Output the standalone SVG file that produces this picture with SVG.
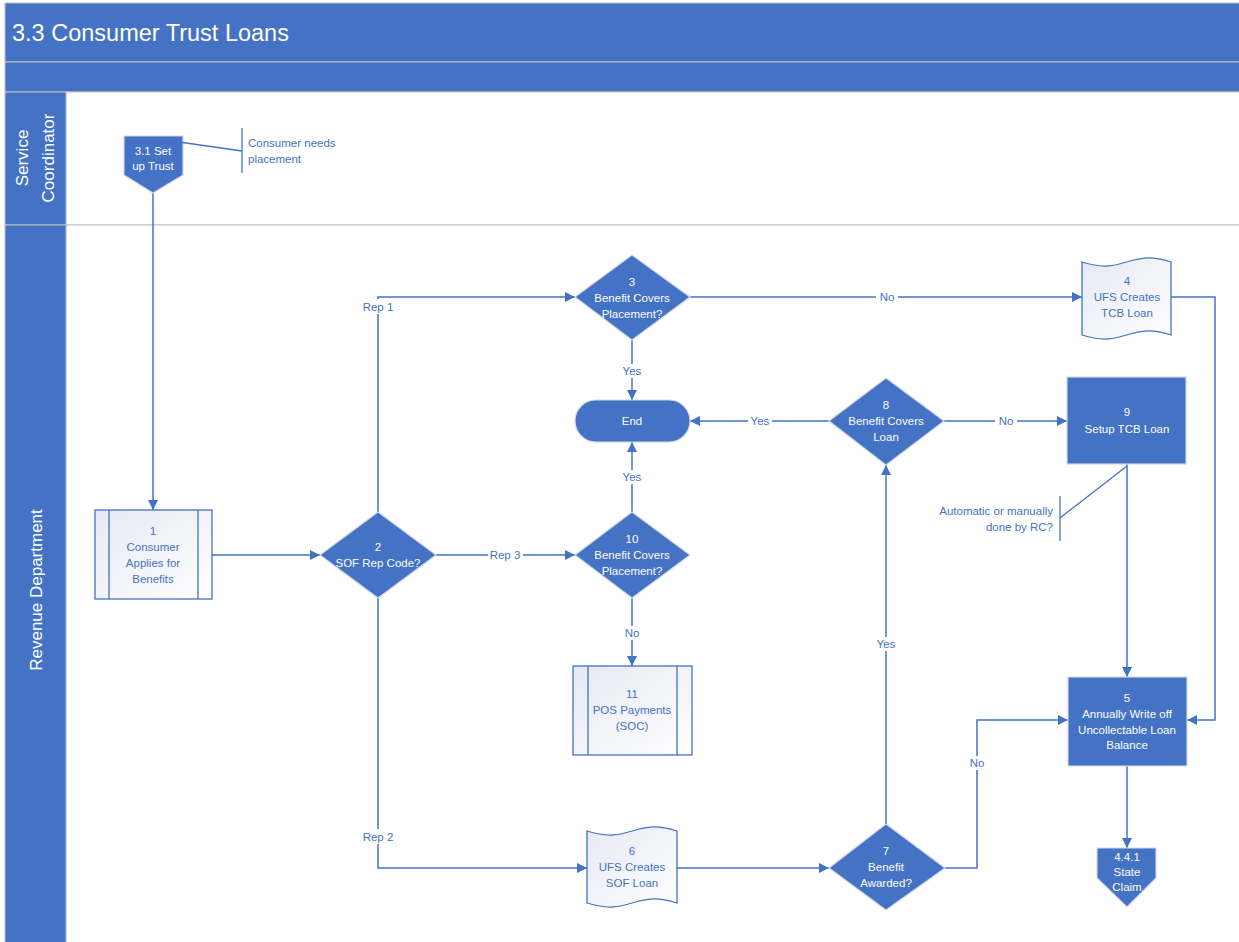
<svg xmlns="http://www.w3.org/2000/svg" width="1239" height="942" viewBox="0 0 1239 942">
  <defs>
    <style>
      .band { fill: #4472C4; stroke: #BFBFBF; stroke-width: 1; }
      .lane { fill: #FFFFFF; stroke: #BFBFBF; stroke-width: 1; }
      .dark { fill: #4472C4; stroke: #D0D7E8; stroke-width: 1.2; }
      .light { fill: url(#lightFill); stroke: #4472C4; stroke-width: 1.3; }
      .inner { fill: none; stroke: #4472C4; stroke-width: 1.3; }
      .arrow { fill: none; stroke: #4472C4; stroke-width: 1.5; marker-end: url(#head); }
      .note { fill: none; stroke: #4472C4; stroke-width: 1.3; }
      .t { font-family: "Liberation Sans", Arial, sans-serif; font-size: 11.5px; text-anchor: middle; }
      .w { fill: #FFFFFF; }
      .b { fill: #4472C4; }
      .lbl { font-family: "Liberation Sans", Arial, sans-serif; font-size: 11.5px; fill: #4472C4; text-anchor: middle; }
      .start { text-anchor: start; }
      .end { text-anchor: end; }
      .lblbg { fill: #FFFFFF; }
      .hdr { font-family: "Liberation Sans", Arial, sans-serif; font-size: 17px; fill: #FFFFFF; text-anchor: middle; }
    </style>
    <linearGradient id="lightFill" x1="0" y1="0" x2="1" y2="1">
      <stop offset="0" stop-color="#E6E9F4"/>
      <stop offset="1" stop-color="#FFFFFF"/>
    </linearGradient>
    <marker id="head" viewBox="0 0 10 10" refX="10" refY="5" markerWidth="10" markerHeight="10" markerUnits="userSpaceOnUse" orient="auto">
      <path d="M0,0 L10,5 L0,10 Z" fill="#4472C4"/>
    </marker>
  </defs>

  <rect width="1239" height="942" fill="#FFFFFF"/>

  <!-- pool title and header bands -->
  <g id="pool">
    <rect class="band" x="5" y="3" width="1240" height="59"/>
    <text x="12" y="41" font-family="'Liberation Sans', Arial, sans-serif" font-size="23.5" fill="#FFFFFF">3.3 Consumer Trust Loans</text>
    <rect class="band" x="5" y="62" width="1240" height="30"/>
  </g>

  <!-- swimlanes -->
  <g id="lane-service-coordinator">
    <rect class="lane" x="66" y="92" width="1180" height="133"/>
    <rect class="band" x="5" y="92" width="61" height="133"/>
    <text class="hdr" transform="translate(28,158) rotate(-90)">Service</text>
    <text class="hdr" transform="translate(54,158) rotate(-90)">Coordinator</text>
  </g>
  <g id="lane-revenue-department">
    <rect class="lane" x="66" y="225" width="1180" height="720"/>
    <rect class="band" x="5" y="225" width="61" height="720"/>
    <text class="hdr" transform="translate(42,590) rotate(-90)">Revenue Department</text>
  </g>

  <!-- connectors -->
  <g id="connectors">
    <path class="arrow" d="M153,193 V510"/>
    <path class="arrow" d="M212,555 H320"/>
    <path class="arrow" d="M378,512 V297 H575"/>
    <path class="arrow" d="M436,555 H575"/>
    <path class="arrow" d="M378,598 V868 H587"/>
    <path class="arrow" d="M690,297 H1082"/>
    <path class="arrow" d="M632,340 V400"/>
    <path class="arrow" d="M632,512 V442"/>
    <path class="arrow" d="M632,598 V666"/>
    <path class="arrow" d="M1171,297 H1215 V720 H1187"/>
    <path class="arrow" d="M829,421 H690"/>
    <path class="arrow" d="M944,421 H1067"/>
    <path class="arrow" d="M1127,464 V677"/>
    <path class="arrow" d="M1127,766 V848"/>
    <path class="arrow" d="M677,868 H829"/>
    <path class="arrow" d="M886,824 V465"/>
    <path class="arrow" d="M945,868 H977 V720 H1068"/>

    <!-- connector labels -->
    <rect class="lblbg" x="361" y="299" width="34" height="15"/>
    <text class="lbl" x="378" y="311">Rep 1</text>
    <rect class="lblbg" x="361" y="829" width="34" height="15"/>
    <text class="lbl" x="378" y="841">Rep 2</text>
    <rect class="lblbg" x="488" y="548" width="35" height="14"/>
    <text class="lbl" x="505" y="559">Rep 3</text>
    <rect class="lblbg" x="876" y="290" width="22" height="14"/>
    <text class="lbl" x="887" y="301">No</text>
    <rect class="lblbg" x="621" y="364" width="22" height="14"/>
    <text class="lbl" x="632" y="375">Yes</text>
    <rect class="lblbg" x="748" y="414" width="24" height="14"/>
    <text class="lbl" x="760" y="425">Yes</text>
    <rect class="lblbg" x="995" y="414" width="22" height="14"/>
    <text class="lbl" x="1006" y="425">No</text>
    <rect class="lblbg" x="621" y="470" width="22" height="14"/>
    <text class="lbl" x="632" y="481">Yes</text>
    <rect class="lblbg" x="621" y="626" width="22" height="14"/>
    <text class="lbl" x="632" y="637">No</text>
    <rect class="lblbg" x="874" y="637" width="24" height="14"/>
    <text class="lbl" x="886" y="648">Yes</text>
    <rect class="lblbg" x="966" y="756" width="22" height="14"/>
    <text class="lbl" x="977" y="767">No</text>
  </g>

  <!-- 3.1 off-page reference -->
  <g id="node-3-1">
    <path class="dark" d="M124,136 H183 V175 L153,193 L124,175 Z"/>
    <text class="t w" x="153" y="155">3.1 Set</text>
    <text class="t w" x="153" y="170">up Trust</text>
  </g>
  <g id="note-3-1">
    <path class="note" d="M172,141 L242,151 M242,128 V173"/>
    <text class="lbl start" x="248" y="147">Consumer needs</text>
    <text class="lbl start" x="248" y="163">placement</text>
  </g>

  <!-- 1 Consumer Applies for Benefits -->
  <g id="node-1">
    <rect class="light" x="95" y="510" width="117" height="89"/>
    <path class="inner" d="M109,510 V599 M198,510 V599"/>
    <text class="t b" x="153" y="535">1</text>
    <text class="t b" x="153" y="551">Consumer</text>
    <text class="t b" x="153" y="567">Applies for</text>
    <text class="t b" x="153" y="583">Benefits</text>
  </g>

  <!-- 2 SOF Rep Code? -->
  <g id="node-2">
    <path class="dark" d="M378,512 L436,555 L378,598 L320,555 Z"/>
    <text class="t w" x="378" y="551">2</text>
    <text class="t w" x="378" y="567">SOF Rep Code?</text>
  </g>

  <!-- 3 Benefit Covers Placement? -->
  <g id="node-3">
    <path class="dark" d="M632,255 L690,297 L632,340 L575,297 Z"/>
    <text class="t w" x="632" y="286">3</text>
    <text class="t w" x="632" y="302">Benefit Covers</text>
    <text class="t w" x="632" y="318">Placement?</text>
  </g>

  <!-- 4 UFS Creates TCB Loan -->
  <g id="node-4">
    <path class="light" d="M1082,262 C1126,276 1127,248 1171,262 V335 C1127,321 1126,349 1082,335 Z"/>
    <text class="t b" x="1127" y="285">4</text>
    <text class="t b" x="1127" y="301">UFS Creates</text>
    <text class="t b" x="1127" y="317">TCB Loan</text>
  </g>

  <!-- End -->
  <g id="node-end">
    <rect class="dark" x="575" y="400" width="115" height="42" rx="21" ry="21"/>
    <text class="t w" x="632" y="425">End</text>
  </g>

  <!-- 8 Benefit Covers Loan -->
  <g id="node-8">
    <path class="dark" d="M886,378 L944,421 L886,465 L829,421 Z"/>
    <text class="t w" x="886" y="409">8</text>
    <text class="t w" x="886" y="425">Benefit Covers</text>
    <text class="t w" x="886" y="441">Loan</text>
  </g>

  <!-- 9 Setup TCB Loan -->
  <g id="node-9">
    <rect class="dark" x="1067" y="377" width="119" height="87"/>
    <text class="t w" x="1127" y="416">9</text>
    <text class="t w" x="1127" y="433">Setup TCB Loan</text>
  </g>
  <g id="note-9">
    <path class="note" d="M1127,466 L1060,518 M1060,496 V541"/>
    <text class="lbl end" x="1053" y="515">Automatic or manually</text>
    <text class="lbl end" x="1053" y="531">done by RC?</text>
  </g>

  <!-- 10 Benefit Covers Placement? -->
  <g id="node-10">
    <path class="dark" d="M632,512 L690,555 L632,598 L575,555 Z"/>
    <text class="t w" x="632" y="543">10</text>
    <text class="t w" x="632" y="559">Benefit Covers</text>
    <text class="t w" x="632" y="575">Placement?</text>
  </g>

  <!-- 11 POS Payments (SOC) -->
  <g id="node-11">
    <rect class="light" x="573" y="666" width="119" height="89"/>
    <path class="inner" d="M588,666 V755 M677,666 V755"/>
    <text class="t b" x="632" y="698">11</text>
    <text class="t b" x="632" y="714">POS Payments</text>
    <text class="t b" x="632" y="730">(SOC)</text>
  </g>

  <!-- 5 Annually Write off Uncollectable Loan Balance -->
  <g id="node-5">
    <rect class="dark" x="1068" y="677" width="119" height="89"/>
    <text class="t w" x="1127" y="702">5</text>
    <text class="t w" x="1127" y="718">Annually Write off</text>
    <text class="t w" x="1127" y="734">Uncollectable Loan</text>
    <text class="t w" x="1127" y="749">Balance</text>
  </g>

  <!-- 4.4.1 off-page reference -->
  <g id="node-4-4-1">
    <path class="dark" d="M1097,848 H1156 V878 L1127,907 L1097,878 Z"/>
    <text class="t w" x="1127" y="861">4.4.1</text>
    <text class="t w" x="1127" y="876">State</text>
    <text class="t w" x="1127" y="891">Claim</text>
  </g>

  <!-- 6 UFS Creates SOF Loan -->
  <g id="node-6">
    <path class="light" d="M587,831 C632,845 632,817 677,831 V903 C632,889 632,917 587,903 Z"/>
    <text class="t b" x="632" y="855">6</text>
    <text class="t b" x="632" y="871">UFS Creates</text>
    <text class="t b" x="632" y="887">SOF Loan</text>
  </g>

  <!-- 7 Benefit Awarded? -->
  <g id="node-7">
    <path class="dark" d="M886,824 L945,868 L886,910 L829,868 Z"/>
    <text class="t w" x="886" y="855">7</text>
    <text class="t w" x="886" y="871">Benefit</text>
    <text class="t w" x="886" y="887">Awarded?</text>
  </g>
</svg>
